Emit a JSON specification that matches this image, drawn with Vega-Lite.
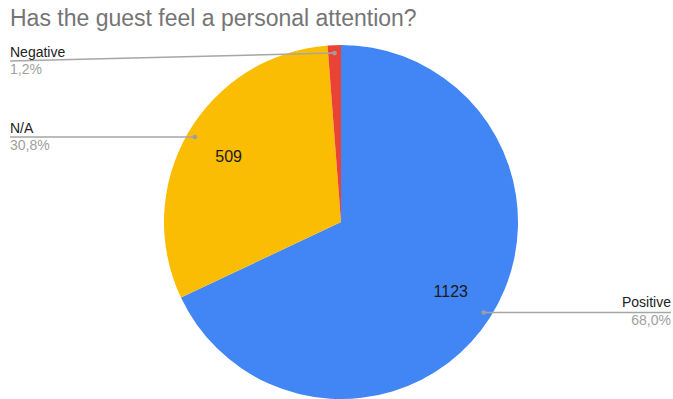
{
  "$schema": "https://vega.github.io/schema/vega-lite/v6.json",
  "width": 664,
  "height": 354,
  "autosize": {"type": "none"},
  "padding": {"left": 9, "top": 45, "right": 0, "bottom": 0},
  "background": "white",
  "title": {
    "text": "Has the guest feel a personal attention?",
    "anchor": "start",
    "frame": "group",
    "font": "Liberation Sans",
    "fontSize": 23,
    "fontWeight": "normal",
    "color": "#757575",
    "baseline": "alphabetic",
    "offset": -4,
    "dx": 1
  },
  "config": {"view": {"stroke": null}},
  "data": {
    "values": [
      {"idx": 1, "category": "Positive", "value": 1123, "pct": "68,0%"},
      {"idx": 2, "category": "N/A", "value": 509, "pct": "30,8%"},
      {"idx": 3, "category": "Negative", "value": 20, "pct": "1,2%"}
    ]
  },
  "transform": [
    {"joinaggregate": [{"op": "sum", "field": "value", "as": "total"}]},
    {"window": [{"op": "sum", "field": "value", "as": "cum"}], "sort": [{"field": "idx"}], "frame": [null, 0]},
    {"calculate": "2*PI*(datum.cum - datum.value/2)/datum.total", "as": "mid"},
    {"calculate": "0.955*sin(datum.mid)", "as": "px"},
    {"calculate": "0.955*cos(datum.mid)", "as": "py"},
    {"calculate": "min(datum.py, 0.91)", "as": "ly"}
  ],
  "layer": [
    {
      "mark": {"type": "arc", "outerRadius": 177},
      "encoding": {
        "theta": {"field": "value", "type": "quantitative", "stack": true},
        "order": {"field": "idx", "type": "quantitative"},
        "color": {
          "field": "category",
          "type": "nominal",
          "scale": {"domain": ["Positive", "N/A", "Negative"], "range": ["#4285f4", "#fbbc04", "#ea4335"]},
          "legend": null
        }
      }
    },
    {
      "mark": {"type": "text", "radius": 130, "font": "Liberation Sans", "fontSize": 16, "color": "#1a1a1a"},
      "encoding": {
        "theta": {"field": "value", "type": "quantitative", "stack": true},
        "order": {"field": "idx", "type": "quantitative"},
        "text": {"condition": {"test": "datum.value < 100", "value": ""}, "field": "value", "type": "nominal"}
      }
    },
    {
      "transform": [{"filter": "datum.px < 0"}],
      "mark": {"type": "rule", "color": "#a6a6a6", "strokeWidth": 1.5},
      "encoding": {
        "x": {"field": "px", "type": "quantitative", "scale": {"domain": [-1.87571, 1.87571], "nice": false, "zero": false}, "axis": null},
        "x2": {"datum": -1.87},
        "y": {"field": "py", "type": "quantitative", "scale": {"domain": [-1, 1], "nice": false, "zero": false}, "axis": null},
        "y2": {"field": "ly"}
      }
    },
    {
      "transform": [{"filter": "datum.px > 0"}],
      "mark": {"type": "rule", "color": "#a6a6a6", "strokeWidth": 1.5},
      "encoding": {
        "x": {"field": "px", "type": "quantitative", "scale": {"domain": [-1.87571, 1.87571], "nice": false, "zero": false}, "axis": null},
        "x2": {"datum": 1.864},
        "y": {"field": "py", "type": "quantitative", "scale": {"domain": [-1, 1], "nice": false, "zero": false}, "axis": null}
      }
    },
    {
      "mark": {"type": "point", "filled": true, "size": 22, "color": "#9e9e9e", "opacity": 1},
      "encoding": {
        "x": {"field": "px", "type": "quantitative", "scale": {"domain": [-1.87571, 1.87571], "nice": false, "zero": false}, "axis": null},
        "y": {"field": "py", "type": "quantitative", "scale": {"domain": [-1, 1], "nice": false, "zero": false}, "axis": null}
      }
    },
    {
      "transform": [{"filter": "datum.px < 0"}],
      "mark": {"type": "text", "align": "left", "baseline": "alphabetic", "dy": -4, "font": "Liberation Sans", "fontSize": 14, "color": "#222222"},
      "encoding": {
        "x": {"datum": -1.87, "type": "quantitative", "scale": {"domain": [-1.87571, 1.87571], "nice": false, "zero": false}, "axis": null},
        "y": {"field": "ly", "type": "quantitative", "scale": {"domain": [-1, 1], "nice": false, "zero": false}, "axis": null},
        "text": {"field": "category", "type": "nominal"}
      }
    },
    {
      "transform": [{"filter": "datum.px < 0"}],
      "mark": {"type": "text", "align": "left", "baseline": "alphabetic", "dy": 13, "font": "Liberation Sans", "fontSize": 14, "color": "#a0a0a0"},
      "encoding": {
        "x": {"datum": -1.87, "type": "quantitative", "scale": {"domain": [-1.87571, 1.87571], "nice": false, "zero": false}, "axis": null},
        "y": {"field": "ly", "type": "quantitative", "scale": {"domain": [-1, 1], "nice": false, "zero": false}, "axis": null},
        "text": {"field": "pct", "type": "nominal"}
      }
    },
    {
      "transform": [{"filter": "datum.px > 0"}],
      "mark": {"type": "text", "align": "right", "baseline": "alphabetic", "dy": -5, "font": "Liberation Sans", "fontSize": 14, "color": "#222222"},
      "encoding": {
        "x": {"datum": 1.864, "type": "quantitative", "scale": {"domain": [-1.87571, 1.87571], "nice": false, "zero": false}, "axis": null},
        "y": {"field": "py", "type": "quantitative", "scale": {"domain": [-1, 1], "nice": false, "zero": false}, "axis": null},
        "text": {"field": "category", "type": "nominal"}
      }
    },
    {
      "transform": [{"filter": "datum.px > 0"}],
      "mark": {"type": "text", "align": "right", "baseline": "alphabetic", "dy": 13, "font": "Liberation Sans", "fontSize": 14, "color": "#a0a0a0"},
      "encoding": {
        "x": {"datum": 1.864, "type": "quantitative", "scale": {"domain": [-1.87571, 1.87571], "nice": false, "zero": false}, "axis": null},
        "y": {"field": "py", "type": "quantitative", "scale": {"domain": [-1, 1], "nice": false, "zero": false}, "axis": null},
        "text": {"field": "pct", "type": "nominal"}
      }
    }
  ]
}
